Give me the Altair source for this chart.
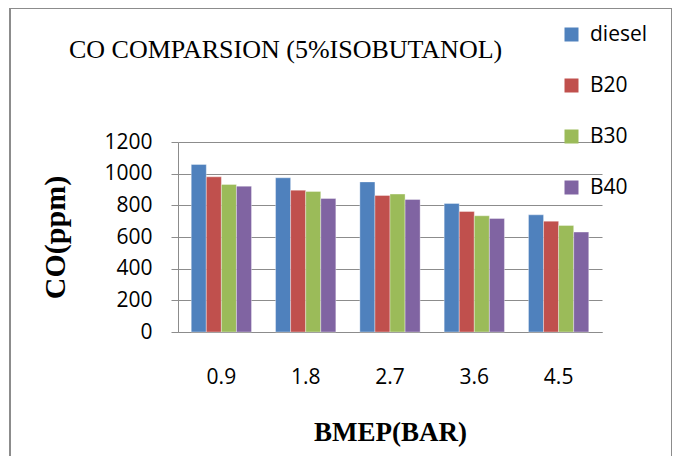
import altair as alt
import pandas as pd

bmep = ["0.9", "1.8", "2.7", "3.6", "4.5"]
series = ["diesel", "B20", "B30", "B40"]
diesel = [1058, 974, 948, 812, 740]
b20 = [980, 896, 862, 761, 700]
b30 = [932, 888, 871, 734, 673]
b40 = [921, 843, 837, 717, 631]
colors = ["#4F81BD", "#C0504D", "#9BBB59", "#8064A2"]
y_ticks = [0, 200, 400, 600, 800, 1000, 1200]

rows = []
for name, vals in zip(series, [diesel, b20, b30, b40]):
    for b, v in zip(bmep, vals):
        rows.append({"bmep": b, "series": name, "co": v})
df = pd.DataFrame(rows)

GRAY = "#8c8c8c"

bars = alt.Chart(df).mark_bar(stroke="white", strokeWidth=0.6, strokeOpacity=0.6).encode(
    x=alt.X(
        "bmep:N", sort=bmep,
        scale=alt.Scale(paddingInner=0.285, paddingOuter=0.157),
        axis=alt.Axis(
            title="BMEP(BAR)", labelAngle=0, ticks=False, tickSize=0, labelPadding=34,
            labelFont="Open Sans", labelFontSize=21, labelColor="black",
            titleFont="Liberation Serif", titleFontSize=27, titleFontWeight="bold",
            titleColor="black", titlePadding=32, domainColor=GRAY, grid=False,
        ),
    ),
    xOffset=alt.XOffset("series:N", sort=series),
    y=alt.Y(
        "co:Q",
        scale=alt.Scale(domain=[0, 1200], nice=False),
        axis=alt.Axis(
            values=y_ticks, format="d", title="CO(ppm)",
            titleFont="Liberation Serif", titleFontSize=30, titleFontWeight="bold",
            titleColor="black", titlePadding=33,
            labelFont="Open Sans", labelFontSize=21, labelColor="black", labelPadding=19,
            tickSize=7, tickColor=GRAY, domainColor=GRAY, gridColor=GRAY, grid=True,
        ),
    ),
    color=alt.Color(
        "series:N", sort=series,
        scale=alt.Scale(domain=series, range=colors),
        legend=alt.Legend(
            title=None, orient="none", legendX=383, legendY=-118,
            symbolType="square", symbolSize=196, symbolStrokeWidth=0,
            labelFont="Open Sans", labelFontSize=21, labelColor="black",
            rowPadding=29, labelOffset=8, padding=0,
        ),
    ),
)

frame = alt.Chart(pd.DataFrame({"k": [0]})).mark_rect(
    filled=False, stroke=GRAY, strokeWidth=2
).encode(
    x=alt.value(-168), x2=alt.value(494), y=alt.value(-134), y2=alt.value(330)
)

chart = alt.layer(frame, bars).properties(
    width=424,
    height=190,
    autosize=alt.AutoSizeParams(type="none"),
    padding={"left": 170, "top": 134, "right": 70, "bottom": 124},
    title=alt.Title(
        "CO COMPARSION (5%ISOBUTANOL)", font="Liberation Serif", fontSize=26,
        fontWeight="normal", anchor="start", frame="group", dx=-109, offset=0,
        dy=82, color="black", baseline="bottom",
    ),
).configure_view(strokeWidth=0)

chart.save("out.html", embed_options={"renderer": "svg", "actions": False})
